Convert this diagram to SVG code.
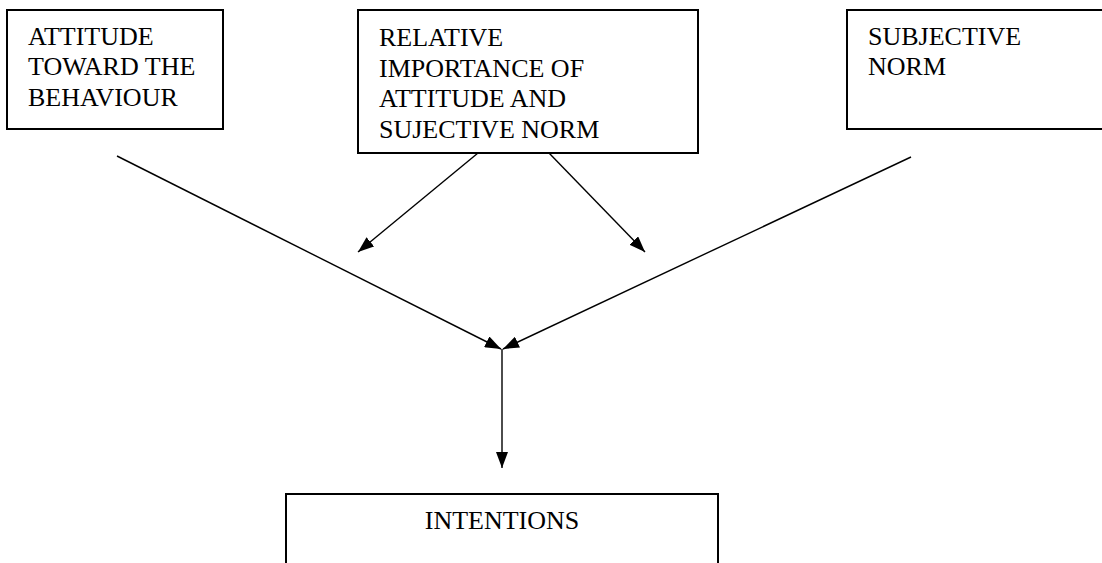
<svg xmlns="http://www.w3.org/2000/svg" width="1102" height="563" viewBox="0 0 1102 563">
<defs>
<marker id="ah" viewBox="0 0 16 12" refX="16" refY="6" markerWidth="16" markerHeight="12" markerUnits="userSpaceOnUse" orient="auto">
<path d="M0,0 L16,6 L0,12 Z" fill="#000"/>
</marker>
<style>
.box{fill:#fff;stroke:#000;stroke-width:2}
.lbl{font-family:"Liberation Serif","Times New Roman",serif;font-size:26px;fill:#000}
.conn{stroke:#000;stroke-width:1.4;fill:none;marker-end:url(#ah)}
</style>
</defs>
<rect width="1102" height="563" fill="#fff"/>
<g id="attitude">
<rect class="box" x="7" y="10" width="216" height="119"/>
<text class="lbl" x="28" y="45">ATTITUDE</text>
<text class="lbl" x="28" y="75">TOWARD THE</text>
<text class="lbl" x="28" y="106">BEHAVIOUR</text>
</g>
<g id="relative">
<rect class="box" x="358" y="10" width="340" height="143"/>
<text class="lbl" x="379" y="46">RELATIVE</text>
<text class="lbl" x="379" y="77">IMPORTANCE OF</text>
<text class="lbl" x="379" y="107">ATTITUDE AND</text>
<text class="lbl" x="379" y="138">SUJECTIVE NORM</text>
</g>
<g id="subjective">
<rect class="box" x="847" y="10" width="270" height="119"/>
<text class="lbl" x="868" y="45">SUBJECTIVE</text>
<text class="lbl" x="868" y="75">NORM</text>
</g>
<g id="intentions">
<rect class="box" x="286" y="494" width="432" height="90"/>
<text class="lbl" x="502" y="529" text-anchor="middle">INTENTIONS</text>
</g>
<g id="connectors">
<line class="conn" x1="117" y1="156" x2="501" y2="349"/>
<line class="conn" x1="911" y1="157" x2="503" y2="349"/>
<line class="conn" x1="478" y1="153" x2="358" y2="252"/>
<line class="conn" x1="549" y1="153" x2="645" y2="252"/>
<line class="conn" x1="502" y1="349" x2="502" y2="468"/>
</g>
</svg>
